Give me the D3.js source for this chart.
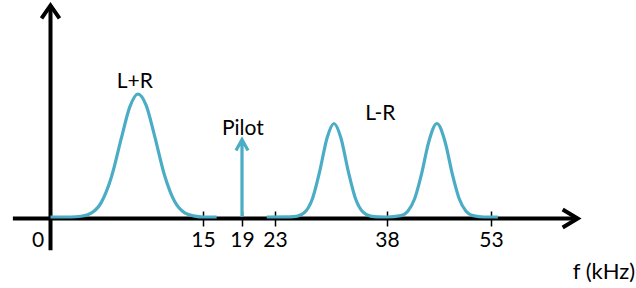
<!DOCTYPE html>
<html>
<head>
<meta charset="utf-8">
<script src="https://cdn.jsdelivr.net/npm/d3@7"></script>
<style>
  body { margin: 0; background: #fff; }
  svg { display: block; font-family: Lato, "Open Sans", sans-serif; }
</style>
</head>
<body>
<div id="chart"></div>
<script>
// frequency ticks (kHz)
var tickValues = [0, 15, 19, 23, 38, 53];

// L+R band (kHz, relative level)
var sumFreq  = [0, 2, 3, 4, 5, 6, 7, 7.8, 8.6, 9.4, 10.2, 11.2, 12.2, 13.2, 14.2, 15, 16.4];
var sumLevel = [0, 0, 0.006, 0.031, 0.119, 0.327, 0.651, 0.895, 1, 0.909, 0.672, 0.344, 0.128, 0.034, 0.007, 0, 0];

// L-R double sideband around 38 kHz
var diffFreq  = [22, 25, 26, 27, 28, 29, 30, 30.9, 31.8, 32.8, 33.8, 34.8, 35.8, 36.8, 38,
                 40, 41, 42, 43, 44, 45.2, 46.4, 47.4, 48.4, 49.4, 50.4, 52, 54];
var diffLevel = [0, 0.001, 0.007, 0.039, 0.147, 0.375, 0.649, 0.76, 0.649, 0.375, 0.147, 0.039, 0.007, 0.001, 0,
                 0.011, 0.047, 0.151, 0.354, 0.606, 0.76, 0.606, 0.354, 0.151, 0.047, 0.011, 0, 0];

// pilot tone
var pilotFreq = [19];
var pilotLevel = [0.63];

// band labels and where they sit (kHz, level)
var labelText  = ["L+R", "Pilot", "L-R"];
var labelFreq  = [8.3, 19.1, 37.1];
var labelLevel = [1.05, 0.667, 0.79];

var width = 636, height = 288;
var teal = "#4bacc6";

var svg = d3.select("#chart").append("svg")
    .attr("width", width)
    .attr("height", height);

// the schematic is not to scale, so the frequency axis is piecewise
var x = d3.scaleLinear()
    .domain([0, 15, 19, 23, 38, 53])
    .range([50.5, 203, 242, 275, 387, 491]);

var y = d3.scaleLinear()
    .domain([0, 1])
    .range([217, 94]);

var axisY = y(0) + 1.5;

// x axis line and arrow
var xEnd = x(65.5), xStart = x(-3.7);
svg.append("line")
    .attr("x1", xStart).attr("x2", xEnd - 2)
    .attr("y1", axisY).attr("y2", axisY)
    .attr("stroke", "#000").attr("stroke-width", 4);
svg.append("path")
    .attr("d", "M" + (xEnd - 15) + "," + (axisY - 9) + "L" + xEnd + "," + axisY + "L" + (xEnd - 15) + "," + (axisY + 9))
    .attr("fill", "none").attr("stroke", "#000").attr("stroke-width", 4);

// y axis line and arrow
var yTop = y(1.72), yBottom = y(-0.27);
svg.append("line")
    .attr("x1", x(0)).attr("x2", x(0))
    .attr("y1", yBottom).attr("y2", yTop + 2)
    .attr("stroke", "#000").attr("stroke-width", 4);
svg.append("path")
    .attr("d", "M" + (x(0) - 9) + "," + (yTop + 13) + "L" + x(0) + "," + yTop + "L" + (x(0) + 9) + "," + (yTop + 13))
    .attr("fill", "none").attr("stroke", "#000").attr("stroke-width", 4);

// ticks crossing the axis, labels below
var xAxis = d3.axisBottom(x)
    .tickValues(tickValues)
    .tickFormat(d3.format("d"))
    .tickSizeInner(15)
    .tickSizeOuter(0)
    .tickPadding(6);

var gx = svg.append("g")
    .attr("transform", "translate(0," + (axisY - 7) + ")")
    .call(xAxis);
gx.select(".domain").remove();
gx.selectAll(".tick line").attr("stroke", "#000").attr("stroke-width", 1.5);
gx.selectAll(".tick text")
    .attr("fill", "#000")
    .style("font-size", "21px")
    .style("font-family", "Lato, 'Open Sans', sans-serif");
// the 0 tick sits on the y axis: no tick mark, label moved left
gx.selectAll(".tick").filter(function(d) { return d === 0; })
    .call(function(t) {
        t.select("line").remove();
        t.select("text").attr("x", -13);
    });

// spectrum curves
var line = d3.line()
    .x(function(d) { return x(d[0]); })
    .y(function(d) { return y(d[1]); })
    .curve(d3.curveMonotoneX);

var bands = [d3.zip(sumFreq, sumLevel), d3.zip(diffFreq, diffLevel)];

svg.selectAll(".band")
    .data(bands)
    .enter()
    .append("path")
    .attr("class", "band")
    .attr("d", line)
    .attr("fill", "none")
    .attr("stroke", teal)
    .attr("stroke-width", 3.2)
    .attr("stroke-linejoin", "round");

// pilot arrow
var pilots = d3.zip(pilotFreq, pilotLevel);
svg.selectAll(".pilot")
    .data(pilots)
    .enter()
    .append("path")
    .attr("class", "pilot")
    .attr("d", function(d) {
        var px = x(d[0]), py = y(d[1]);
        return "M" + px + "," + y(0) + "L" + px + "," + (py + 1) +
            "M" + (px - 6) + "," + (py + 11) + "L" + px + "," + py + "L" + (px + 6) + "," + (py + 11);
    })
    .attr("fill", "none")
    .attr("stroke", teal)
    .attr("stroke-width", 3.2);

// band labels
svg.selectAll(".label")
    .data(d3.range(labelText.length))
    .enter()
    .append("text")
    .attr("class", "label")
    .attr("x", function(i) { return x(labelFreq[i]); })
    .attr("y", function(i) { return y(labelLevel[i]); })
    .attr("text-anchor", "middle")
    .style("font-size", "21px")
    .text(function(i) { return labelText[i]; });

// axis title
svg.append("text")
    .attr("x", 604)
    .attr("y", 279)
    .attr("text-anchor", "middle")
    .style("font-size", "22px")
    .text("f (kHz)");
</script>
</body>
</html>
